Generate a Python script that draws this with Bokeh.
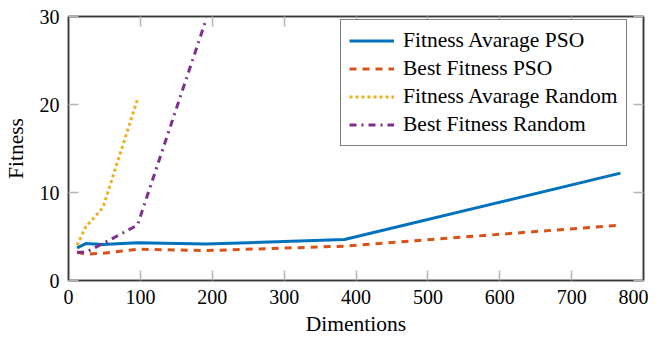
from bokeh.plotting import figure
from bokeh.models import LinearAxis, Range1d, FixedTicker, CustomJSTickFormatter, Legend, LegendItem
from bokeh.embed import file_html
from bokeh.resources import INLINE

# ---- data ----
dims_pso = [12, 24, 48, 96, 192, 384, 768]
fitness_avg_pso = [3.7, 4.2, 4.1, 4.3, 4.15, 4.65, 12.2]
best_fitness_pso = [3.2, 3.0, 3.1, 3.55, 3.4, 3.9, 6.3]
dims_avg_random = [12, 24, 48, 96]
fitness_avg_random = [4.0, 6.1, 8.3, 20.6]
dims_best_random = [12, 24, 48, 96, 192]
best_fitness_random = [3.2, 3.2, 4.2, 6.3, 29.8]

x_ticks = [0, 100, 200, 300, 400, 500, 600, 700, 800]
y_ticks = [0, 10, 20, 30]
series_names = ["Fitness Avarage PSO", "Best Fitness PSO",
                "Fitness Avarage Random", "Best Fitness Random"]

FONT = "Liberation Serif"
FS_TICK = "20px"
FS = "21.5px"
FRAME = "#3a3a3a"
TICK = "#b4b4b4"

p = figure(width=645, height=332, frame_width=575, frame_height=264,
           output_backend="svg", toolbar_location=None,
           x_range=Range1d(0, 800), y_range=Range1d(0, 30),
           min_border_left=65, min_border_right=5, min_border_top=16, min_border_bottom=52)
p.background_fill_color = "white"
p.border_fill_color = "white"
p.grid.visible = False
p.outline_line_color = FRAME
p.outline_line_width = 1.5

def style_axis(ax, ticks, labels=True):
    ax.ticker = FixedTicker(ticks=ticks)
    ax.major_tick_in = 10
    ax.major_tick_out = 0
    ax.minor_tick_line_color = None
    ax.major_tick_line_color = TICK
    ax.major_tick_line_width = 1.5
    ax.axis_line_color = FRAME
    ax.axis_line_width = 1.5
    ax.major_label_text_font = FONT
    ax.major_label_text_font_size = FS_TICK
    ax.major_label_text_color = "black"
    ax.axis_label_text_font = FONT
    ax.axis_label_text_font_size = FS
    ax.axis_label_text_font_style = "normal"
    ax.axis_label_text_color = "black"
    if not labels:
        ax.formatter = CustomJSTickFormatter(code="return ''")
        ax.major_label_text_font_size = "0px"
        ax.major_label_standoff = 0

style_axis(p.xaxis[0], x_ticks)
style_axis(p.yaxis[0], y_ticks)
p.xaxis[0].axis_label = "Dimentions"
p.yaxis[0].axis_label = "Fitness"
p.xaxis[0].major_label_standoff = 9
p.xaxis[0].axis_label_standoff = 5
p.yaxis[0].major_label_standoff = 9
p.yaxis[0].axis_label_standoff = 9

top = LinearAxis()
style_axis(top, x_ticks, labels=False)
p.add_layout(top, "above")
right = LinearAxis()
style_axis(right, y_ticks, labels=False)
p.add_layout(right, "right")

r1 = p.line(dims_pso, fitness_avg_pso, line_color="#0072BD", line_width=3)
r2 = p.line(dims_pso, best_fitness_pso, line_color="#D95319", line_width=3, line_dash="7 6")
r3 = p.line(dims_avg_random, fitness_avg_random, line_color="#EDB120", line_width=3, line_dash="3 3")
r4 = p.line(dims_best_random, best_fitness_random, line_color="#7E2F8E", line_width=3, line_dash="7 5 2 5")

legend = Legend(items=[LegendItem(label=n, renderers=[r]) for n, r in zip(series_names, [r1, r2, r3, r4])],
                location=(272, 134))
legend.label_text_font = FONT
legend.label_text_font_size = FS
legend.label_text_color = "black"
legend.border_line_color = "black"
legend.border_line_width = 1
legend.background_fill_alpha = 1
legend.padding = 8
legend.margin = 0
legend.spacing = 3
legend.glyph_width = 45
legend.glyph_height = 25
legend.label_height = 25
legend.label_standoff = 9
p.add_layout(legend, "center")

open("out.html", "w").write(file_html(p, INLINE))
